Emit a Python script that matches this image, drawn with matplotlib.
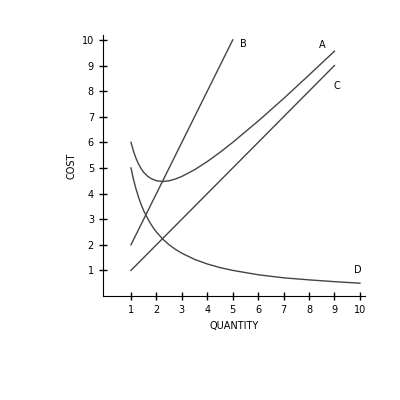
import matplotlib
matplotlib.use("Agg")
import matplotlib.pyplot as plt

xb = [1, 5]; yb = [2, 10]
xc = [1, 9]; yc = [1, 9]
xd = [1, 1.1, 1.2, 1.3, 1.4, 1.5, 1.6, 1.75, 1.9, 2, 2.25, 2.5, 2.75, 3, 3.5, 4, 4.5, 5, 6, 7, 8, 9, 10]
yd = [5, 4.55, 4.17, 3.85, 3.57, 3.33, 3.13, 2.86, 2.63, 2.5, 2.22, 2, 1.82, 1.67, 1.43, 1.25, 1.11, 1, 0.83, 0.71, 0.63, 0.56, 0.5]
xa = [1, 1.1, 1.2, 1.3, 1.4, 1.5, 1.65, 1.8, 2, 2.25, 2.5, 2.75, 3, 3.5, 4, 4.5, 5, 6, 7, 8, 9]
ya = [6, 5.65, 5.37, 5.15, 4.97, 4.83, 4.68, 4.58, 4.5, 4.47, 4.5, 4.57, 4.67, 4.93, 5.25, 5.61, 6, 6.83, 7.71, 8.63, 9.56]
labels = ["A", "B", "C", "D"]
label_pos = [(8.5, 9.8), (5.4, 9.85), (9.1, 8.2), (9.9, 1.0)]

fig = plt.figure(figsize=(4, 4), dpi=100)
ax = fig.add_axes([0.2575, 0.26, 0.655, 0.653])
for x, y in [(xa, ya), (xb, yb), (xc, yc), (xd, yd)]:
    ax.plot(x, y, color="#444444", lw=1)
for t, (x, y) in zip(labels, label_pos):
    ax.text(x, y, t, fontsize=7, ha="center", va="center")
ax.set_xlim(-0.1, 10.2)
ax.set_ylim(0, 10.2)
ax.set_xticks(range(1, 11))
ax.set_yticks(range(1, 11))
ax.tick_params(direction="inout", length=6, labelsize=7, width=1)
for s in ["top", "right"]:
    ax.spines[s].set_visible(False)
ax.set_xlabel("QUANTITY", fontsize=7)
ax.set_ylabel("COST", fontsize=7)
fig.savefig("out.png")
